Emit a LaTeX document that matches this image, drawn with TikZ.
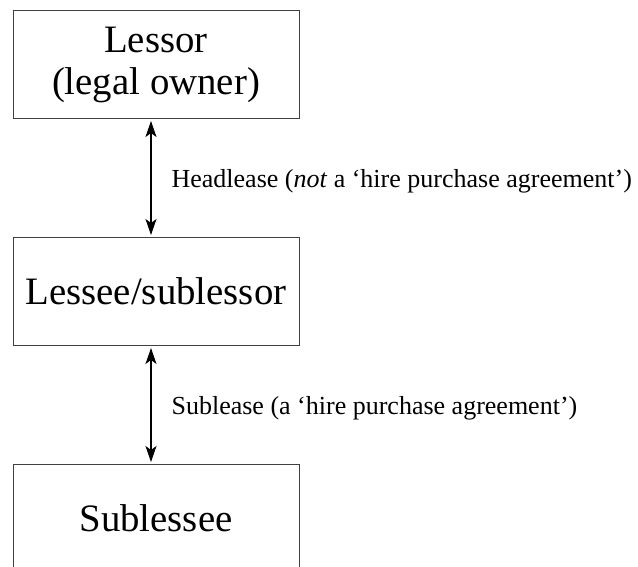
\documentclass[tikz,border=0pt]{standalone}
\usepackage{fontspec}
\setmainfont{Liberation Serif}
\usetikzlibrary{arrows.meta, positioning}

\tikzset{
  party/.style={draw=black!75, line width=1pt, minimum width=286pt, minimum height=108pt, align=center, font=\fontsize{38.8}{42}\selectfont},
  lease/.style={<->, line width=1.2pt, >={Stealth[length=16pt,width=11pt,inset=4pt]}, shorten <=2pt, shorten >=2pt},
  leaselabel/.style={font=\fontsize{26}{30}\selectfont, inner sep=0pt, yshift=-3pt}
}

\begin{document}
\begin{tikzpicture}[x=1pt, y=1pt]
  \useasboundingbox (0,0) rectangle (638,-567);
  % the three parties
  \node[party] (lessor) at (156,-64.5) {Lessor\\(legal owner)};
  \node[party, below=118pt of lessor] (lessee) {Lessee/sublessor};
  \node[party, below=118pt of lessee] (sublessee) {Sublessee};
  % leases between them
  \draw[lease] ([xshift=-5pt]lessor.south) -- node[leaselabel, right=20pt] (headlease) {Headlease (\textit{not} a ‘hire purchase agreement’)} ([xshift=-5pt]lessee.north);
  \draw[lease] ([xshift=-5pt]lessee.south) -- node[leaselabel, right=20pt] (sublease) {Sublease (a ‘hire purchase agreement’)} ([xshift=-5pt]sublessee.north);
\end{tikzpicture}
\end{document}
